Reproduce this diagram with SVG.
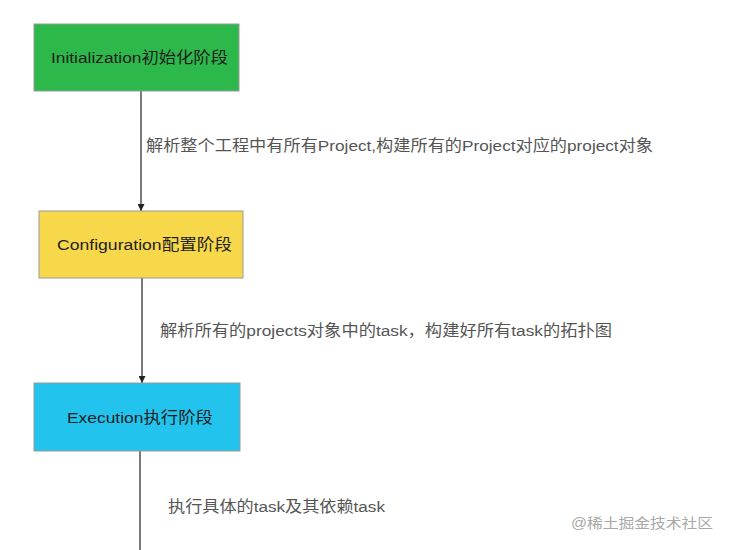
<svg xmlns="http://www.w3.org/2000/svg" width="731" height="550" viewBox="0 0 731 550">
<defs>
<style>
.box{stroke:#9a9a9a;stroke-width:1}
.bt{font-family:"Liberation Sans","Noto Sans CJK SC",sans-serif;font-size:15.5px;fill:#1e1e1e}
.lt{font-family:"Liberation Sans","Noto Sans CJK SC",sans-serif;font-size:15.5px;fill:#555}
.wm{font-family:"Liberation Sans","Noto Sans CJK SC",sans-serif;font-size:14px;fill:#a8a8a8}
.ln{stroke:#333;stroke-width:1.3;fill:none}
</style>
<marker id="ah" viewBox="0 0 10 10" refX="10" refY="5" markerWidth="7" markerHeight="7" orient="auto" markerUnits="userSpaceOnUse">
<path d="M0,0 L10,5 L0,10 z" fill="#222"/>
</marker>
</defs>
<rect width="731" height="550" fill="#fff"/>
<g id="connectors">
<line class="ln" x1="141" y1="91" x2="141" y2="211" marker-end="url(#ah)"/>
<line class="ln" x1="142" y1="278" x2="142" y2="383" marker-end="url(#ah)"/>
<line class="ln" x1="140" y1="451" x2="140" y2="550"/>
</g>
<g id="init">
<rect class="box" x="34" y="24" width="205" height="67" fill="#2db84b"/>
<text class="bt" x="51" y="63" textLength="177" lengthAdjust="spacingAndGlyphs">Initialization初始化阶段</text>
</g>
<g id="config">
<rect class="box" x="39" y="211" width="204" height="67" fill="#f8d84b"/>
<text class="bt" x="57" y="250" textLength="175" lengthAdjust="spacingAndGlyphs">Configuration配置阶段</text>
</g>
<g id="exec">
<rect class="box" x="34" y="383" width="206" height="68" fill="#22c4ee"/>
<text class="bt" x="67" y="423" textLength="146" lengthAdjust="spacingAndGlyphs">Execution执行阶段</text>
</g>
<g id="labels">
<text class="lt" x="146" y="151" textLength="507" lengthAdjust="spacingAndGlyphs">解析整个工程中有所有Project,构建所有的Project对应的project对象</text>
<text class="lt" x="160" y="336" textLength="452" lengthAdjust="spacingAndGlyphs">解析所有的projects对象中的task，构建好所有task的拓扑图</text>
<text class="lt" x="168" y="512" textLength="217" lengthAdjust="spacingAndGlyphs">执行具体的task及其依赖task</text>
<text class="wm" x="571" y="528" textLength="142" lengthAdjust="spacingAndGlyphs">@稀土掘金技术社区</text>
</g>
</svg>
